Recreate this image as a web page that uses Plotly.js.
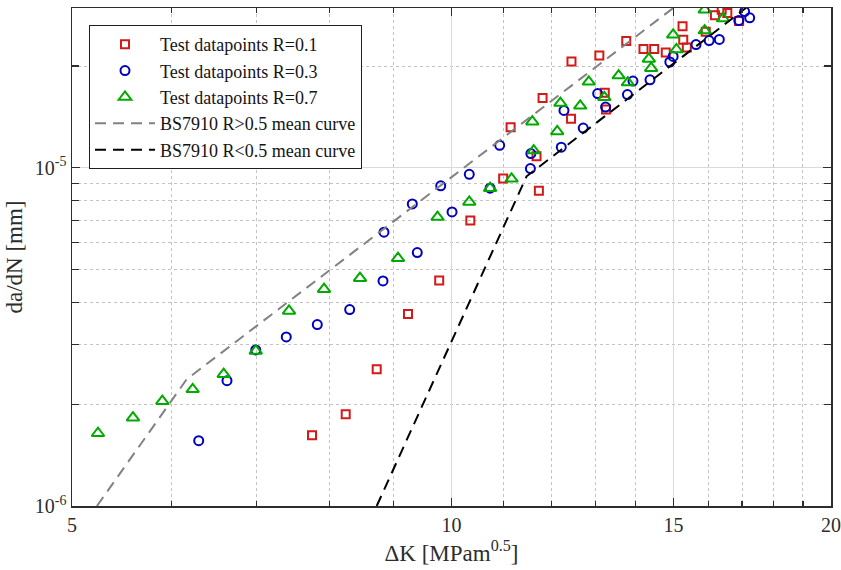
<!DOCTYPE html>
<html>
<head>
<meta charset="utf-8">
<script src="https://cdn.plot.ly/plotly-3.0.1.min.js"></script>
<style>html,body{margin:0;padding:0;background:#fff;}#chart{width:841px;height:570px;}</style>
</head>
<body>
<div id="chart"></div>
<script>
// R = 0.1 test data (ΔK [MPa m^0.5], da/dN [mm])
const dK_R01 = [7.751, 8.243, 8.723, 9.236, 9.778, 10.35, 10.99, 11.14, 11.68, 11.73, 11.81, 12.45, 12.44, 13.10, 13.23, 13.26, 13.76, 14.20, 14.48, 14.79, 15.25, 15.27, 15.37, 15.91, 16.18, 16.38, 16.55, 16.91];
const da_R01 = [1.619e-6, 1.868e-6, 2.538e-6, 3.699e-6, 4.640e-6, 6.984e-6, 9.297e-6, 1.318e-5, 1.083e-5, 8.561e-6, 1.608e-5, 2.063e-5, 1.396e-5, 2.148e-5, 1.669e-5, 1.487e-5, 2.371e-5, 2.246e-5, 2.245e-5, 2.194e-5, 2.624e-5, 2.392e-5, 2.270e-5, 2.526e-5, 2.826e-5, 2.934e-5, 2.869e-5, 2.717e-5];

// R = 0.3 test data
const dK_R03 = [6.302, 6.636, 6.994, 7.395, 7.826, 8.303, 8.824, 8.840, 9.309, 9.394, 9.805, 10.01, 10.33, 10.73, 10.92, 11.56, 11.55, 12.28, 12.22, 12.72, 13.06, 13.25, 13.79, 13.93, 14.37, 14.90, 14.99, 15.63, 16.01, 16.31, 16.90, 17.08, 17.24];
const da_R03 = [1.560e-6, 2.348e-6, 2.894e-6, 3.162e-6, 3.439e-6, 3.809e-6, 4.631e-6, 6.453e-6, 7.825e-6, 5.616e-6, 8.846e-6, 7.410e-6, 9.567e-6, 8.708e-6, 1.166e-5, 1.102e-5, 9.950e-6, 1.478e-5, 1.151e-5, 1.311e-5, 1.658e-5, 1.513e-5, 1.647e-5, 1.806e-5, 1.821e-5, 2.056e-5, 2.135e-5, 2.316e-5, 2.379e-5, 2.397e-5, 2.726e-5, 2.898e-5, 2.778e-5];

// R = 0.7 test data
const dK_R07 = [5.243, 5.589, 5.897, 6.233, 6.596, 6.994, 7.432, 7.923, 8.461, 9.069, 9.748, 10.33, 10.73, 11.16, 11.62, 11.59, 12.13, 12.20, 12.65, 12.85, 13.22, 13.57, 13.80, 14.34, 14.40, 14.99, 15.08, 15.88, 15.88, 16.42];
const da_R07 = [1.641e-6, 1.825e-6, 2.041e-6, 2.214e-6, 2.453e-6, 2.875e-6, 3.775e-6, 4.377e-6, 4.717e-6, 5.405e-6, 7.152e-6, 7.930e-6, 8.710e-6, 9.280e-6, 1.125e-5, 1.370e-5, 1.282e-5, 1.554e-5, 1.526e-5, 1.797e-5, 1.617e-5, 1.875e-5, 1.788e-5, 2.099e-5, 1.972e-5, 2.475e-5, 2.239e-5, 2.934e-5, 2.546e-5, 2.765e-5];

// BS7910 mean curves (two-stage)
const dK_BShigh = [5.233, 6.165, 14.99];
const da_BShigh = [1.0e-6, 2.37e-6, 2.968e-5];
const dK_BSlow = [8.723, 11.47, 17.13];
const da_BSlow = [1.0e-6, 9.44e-6, 2.974e-5];

// Axis ticks
const xTickVals = [5, 10, 15, 20];
const xTickText = ['5', '10', '15', '20'];
const xMinorVals = [6, 7, 8, 9, 11, 12, 13, 14, 16, 17, 18, 19];
const yTickVals = [1e-6, 1e-5];
const yTickText = ['10<sup>-6</sup>', '10<sup>-5</sup>'];
const yMinorVals = [2e-6, 3e-6, 4e-6, 5e-6, 6e-6, 7e-6, 8e-6, 9e-6, 2e-5];

const RED = 'rgb(212,25,25)';
const BLUE = 'rgb(0,0,190)';
const GREEN = 'rgb(0,170,0)';
const FONT = '"Liberation Serif", "Times New Roman", serif';
const AX = 'rgb(45,45,45)';

const traces = [
  {x: dK_R01, y: da_R01, type: 'scatter', mode: 'markers', name: 'Test datapoints R=0.1',
   marker: {symbol: 'square-open', size: 8, color: RED, line: {width: 2, color: RED}}},
  {x: dK_R03, y: da_R03, type: 'scatter', mode: 'markers', name: 'Test datapoints R=0.3',
   marker: {symbol: 'circle-open', size: 9, color: BLUE, line: {width: 2, color: BLUE}}},
  {x: dK_R07, y: da_R07, type: 'scatter', mode: 'markers', name: 'Test datapoints R=0.7',
   marker: {symbol: 'triangle-up-open', size: 11, color: GREEN, line: {width: 2, color: GREEN}}},
  {x: dK_BShigh, y: da_BShigh, type: 'scatter', mode: 'lines', name: 'BS7910 R>0.5 mean curve',
   line: {color: 'rgb(130,130,130)', width: 2, dash: '11px,7px'}},
  {x: dK_BSlow, y: da_BSlow, type: 'scatter', mode: 'lines', name: 'BS7910 R<0.5 mean curve',
   line: {color: 'rgb(0,0,0)', width: 2, dash: '11px,7px'}}
];

const axisCommon = {
  showline: true, linecolor: AX, linewidth: 1.5, mirror: 'ticks',
  ticks: 'inside', tickcolor: AX, tickwidth: 1.2,
  tickfont: {family: FONT, size: 20, color: AX},
  showgrid: true, gridcolor: 'rgb(218,218,218)', gridwidth: 1,
  zeroline: false, tickmode: 'array', automargin: false
};

const layout = {
  width: 841, height: 570,
  margin: {l: 72, r: 10, t: 8, b: 64},
  paper_bgcolor: '#ffffff', plot_bgcolor: '#ffffff',
  showlegend: true,
  legend: {
    x: 0.0224, y: 0.966, xanchor: 'left', yanchor: 'top',
    bgcolor: '#ffffff', bordercolor: 'rgb(30,30,30)', borderwidth: 1,
    font: {family: FONT, size: 18, color: 'rgb(20,20,20)'},
    itemwidth: 60, tracegroupgap: 0
  },
  xaxis: Object.assign({}, axisCommon, {
    type: 'log', range: [Math.log10(5), Math.log10(20)],
    tickvals: xTickVals, ticktext: xTickText, ticklen: 8,
    minor: {tickmode: 'array', tickvals: xMinorVals, ticks: 'inside', ticklen: 5,
            tickcolor: AX, showgrid: true, gridcolor: 'rgb(195,195,195)', griddash: 'dot', gridwidth: 1},
    title: {text: 'ΔK [MPam<sup>0.5</sup>]', font: {family: FONT, size: 23, color: AX}, standoff: 10}
  }),
  yaxis: Object.assign({}, axisCommon, {
    type: 'log', range: [-6, Math.log10(2.97e-5)],
    tickvals: yTickVals, ticktext: yTickText, ticklen: 8,
    minor: {tickmode: 'array', tickvals: yMinorVals, ticks: 'inside', ticklen: 7,
            tickcolor: AX, showgrid: true, gridcolor: 'rgb(195,195,195)', griddash: 'dot', gridwidth: 1},
    title: {text: 'da/dN [mm]', font: {family: FONT, size: 23, color: AX}, standoff: 6}
  })
};

Plotly.newPlot('chart', traces, layout, {staticPlot: true, displayModeBar: false});
</script>
</body>
</html>
